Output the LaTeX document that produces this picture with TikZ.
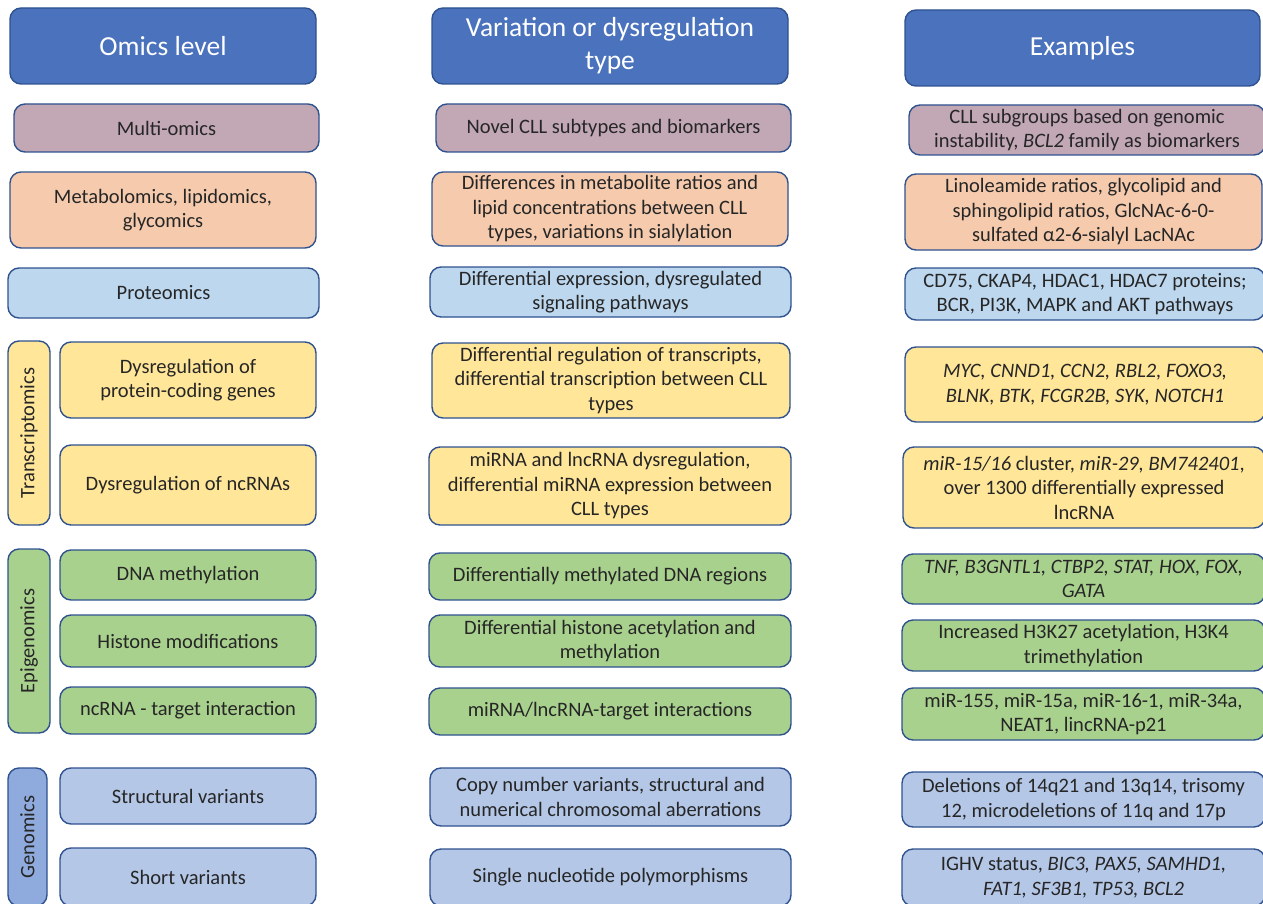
\documentclass[tikz,border=0pt]{standalone}
\usepackage{fontspec}
\setmainfont{Carlito}
\definecolor{bord}{HTML}{2F528F}
\definecolor{hdr}{HTML}{4A72BD}
\definecolor{txt}{HTML}{262626}
\definecolor{cmulti}{HTML}{C2A7B5}
\definecolor{cmeta}{HTML}{F6CBAD}
\definecolor{cprot}{HTML}{BDD7EE}
\definecolor{ctrans}{HTML}{FFE699}
\definecolor{cepi}{HTML}{A9D18E}
\definecolor{cgen}{HTML}{B4C7E7}
\definecolor{cgenbar}{HTML}{8FAADC}
\tikzset{
  cell/.style={draw=bord, line width=1.4pt, rounded corners=11pt, align=center, inner sep=0pt,
    text=txt, font=\fontsize{20.5}{24.5}\selectfont},
  hcell/.style={cell, fill=hdr, text=white, font=\fontsize{27.5}{33}\selectfont},
  bar/.style={cell, rotate=90},
}
\begin{document}
\begin{tikzpicture}[x=1pt,y=-1pt]
\useasboundingbox (0,0) rectangle (1263,904);
\clip (0,0) rectangle (1263,904);
% headers
\node[hcell, minimum width=306pt, minimum height=76pt] (h1) at (163,46) {Omics level};
\node[hcell, minimum width=356pt, minimum height=76pt] (h2) at (610,46) {Variation or dysregulation\\type};
\node[hcell, minimum width=355pt, minimum height=76pt] (h3) at (1082.5,48) {Examples};
% multi-omics
\node[cell, fill=cmulti, minimum width=305pt, minimum height=48pt] (m1) at (166.5,128) {Multi-omics};
\node[cell, fill=cmulti, minimum width=355pt, minimum height=48pt] (m2) at (613.5,128) {Novel CLL subtypes and biomarkers};
\node[cell, fill=cmulti, minimum width=356pt, minimum height=50pt] (m3) at (1087,130) {CLL subgroups based on genomic\\instability, \textit{BCL2} family as biomarkers};
% metabolomics
\node[cell, fill=cmeta, minimum width=306pt, minimum height=76pt] (me1) at (163,210) {Metabolomics, lipidomics,\\glycomics};
\node[cell, fill=cmeta, minimum width=356pt, minimum height=74pt] (me2) at (610,209) {Differences in metabolite ratios and\\lipid concentrations between CLL\\types, variations in sialylation};
\node[cell, fill=cmeta, minimum width=357pt, minimum height=76pt] (me3) at (1083.5,212) {Linoleamide ratios, glycolipid and\\sphingolipid ratios, GlcNAc-6-0-\\sulfated α2-6-sialyl LacNAc};
% proteomics
\node[cell, fill=cprot, minimum width=311pt, minimum height=50pt] (p1) at (163.5,293) {Proteomics};
\node[cell, fill=cprot, minimum width=361pt, minimum height=50pt] (p2) at (610.5,292) {Differential expression, dysregulated\\signaling pathways};
\node[cell, fill=cprot, minimum width=360pt, minimum height=52pt] (p3) at (1085,294) {CD75, CKAP4, HDAC1, HDAC7 proteins;\\BCR, PI3K, MAPK and AKT pathways};
% transcriptomics
\node[bar, fill=ctrans, minimum width=184pt, minimum height=42pt] (tb) at (29,433) {Transcriptomics};
\node[cell, fill=ctrans, minimum width=256pt, minimum height=76pt] (t1a) at (188,380) {Dysregulation of\\protein-coding genes};
\node[cell, fill=ctrans, minimum width=358pt, minimum height=75pt] (t1b) at (611,380.5) {Differential regulation of transcripts,\\differential transcription between CLL\\types};
\node[cell, fill=ctrans, minimum width=360pt, minimum height=75pt] (t1c) at (1085,384.5) {\textit{MYC, CNND1, CCN2, RBL2, FOXO3,}\\\textit{BLNK, BTK, FCGR2B, SYK, NOTCH1}};
\node[cell, fill=ctrans, minimum width=256pt, minimum height=80pt] (t2a) at (188,485) {Dysregulation of ncRNAs};
\node[cell, fill=ctrans, minimum width=362pt, minimum height=78pt] (t2b) at (610,486) {miRNA and lncRNA dysregulation,\\differential miRNA expression between\\CLL types};
\node[cell, fill=ctrans, minimum width=362pt, minimum height=81pt] (t2c) at (1084,487.5) {\textit{miR-15/16} cluster, \textit{miR-29, BM742401},\\over 1300 differentially expressed\\lncRNA};
% epigenomics
\node[bar, fill=cepi, minimum width=184pt, minimum height=42pt] (eb) at (29,641) {Epigenomics};
\node[cell, fill=cepi, minimum width=256pt, minimum height=50pt] (e1a) at (188,575) {DNA methylation};
\node[cell, fill=cepi, minimum width=362pt, minimum height=47pt] (e1b) at (610,576.5) {Differentially methylated DNA regions};
\node[cell, fill=cepi, minimum width=363pt, minimum height=50pt] (e1c) at (1083.5,579) {\textit{TNF, B3GNTL1, CTBP2, STAT, HOX, FOX,}\\\textit{GATA}};
\node[cell, fill=cepi, minimum width=256pt, minimum height=52pt] (e2a) at (188,641) {Histone modifications};
\node[cell, fill=cepi, minimum width=362pt, minimum height=52pt] (e2b) at (610,641) {Differential histone acetylation and\\methylation};
\node[cell, fill=cepi, minimum width=363pt, minimum height=51pt] (e2c) at (1083.5,645.5) {Increased H3K27 acetylation, H3K4\\trimethylation};
\node[cell, fill=cepi, minimum width=256pt, minimum height=47pt] (e3a) at (188,710.5) {ncRNA - target interaction};
\node[cell, fill=cepi, minimum width=362pt, minimum height=47pt] (e3b) at (610,711.5) {miRNA/lncRNA-target interactions};
\node[cell, fill=cepi, minimum width=363pt, minimum height=52pt] (e3c) at (1083.5,714) {miR-155, miR-15a, miR-16-1, miR-34a,\\NEAT1, lincRNA-p21};
% genomics
\node[bar, fill=cgenbar, minimum width=138pt, minimum height=39pt] (gb) at (27.5,837) {Genomics};
\node[cell, fill=cgen, minimum width=256pt, minimum height=56pt] (g1a) at (188,796) {Structural variants};
\node[cell, fill=cgen, minimum width=361pt, minimum height=58pt] (g1b) at (610.5,797) {Copy number variants, structural and\\numerical chromosomal aberrations};
\node[cell, fill=cgen, minimum width=363pt, minimum height=55pt] (g1c) at (1083.5,799.5) {Deletions of 14q21 and 13q14, trisomy\\12, microdeletions of 11q and 17p};
\node[cell, fill=cgen, minimum width=256pt, minimum height=58pt] (g2a) at (188,877) {Short variants};
\node[cell, fill=cgen, minimum width=361pt, minimum height=57pt] (g2b) at (610.5,877.5) {Single nucleotide polymorphisms};
\node[cell, fill=cgen, minimum width=363pt, minimum height=57pt] (g2c) at (1083.5,877.5) {IGHV status, \textit{BIC3, PAX5, SAMHD1,}\\\textit{FAT1, SF3B1, TP53, BCL2}};
\end{tikzpicture}
\end{document}
